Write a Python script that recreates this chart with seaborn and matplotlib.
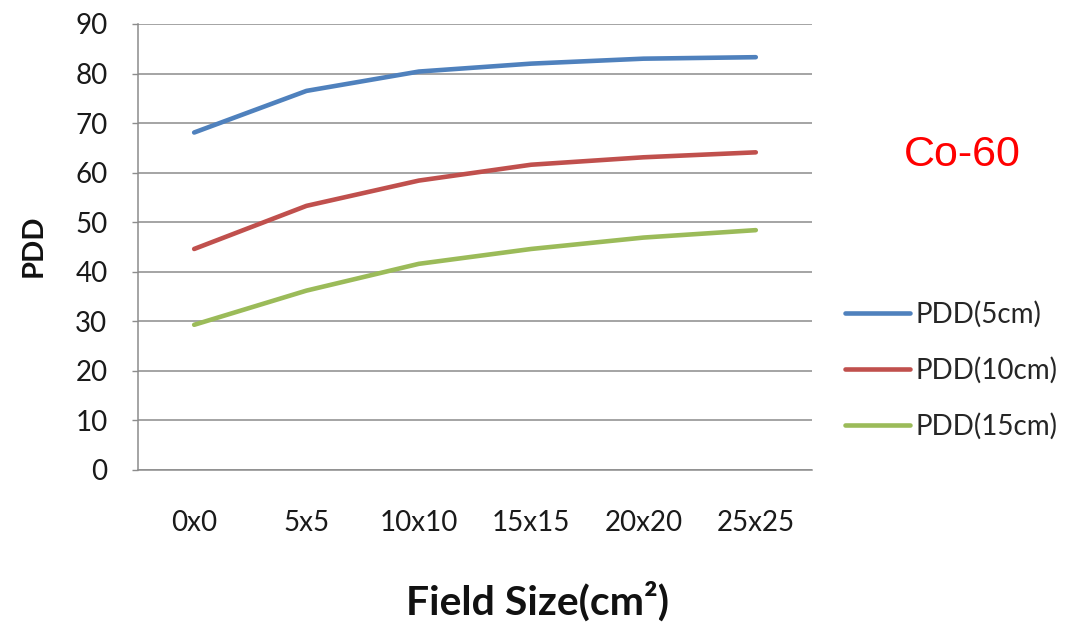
import matplotlib
matplotlib.use("Agg")
import matplotlib.pyplot as plt
import seaborn as sns
import pandas as pd

# Field sizes and percentage depth dose at three depths (Co-60 beam)
field_sizes = ["0x0", "5x5", "10x10", "15x15", "20x20", "25x25"]
pdd_5cm = [68.1, 76.5, 80.4, 82.0, 83.0, 83.3]
pdd_10cm = [44.6, 53.3, 58.4, 61.6, 63.1, 64.1]
pdd_15cm = [29.3, 36.2, 41.6, 44.6, 46.9, 48.4]
series_names = ["PDD(5cm)", "PDD(10cm)", "PDD(15cm)"]
y_ticks = [0, 10, 20, 30, 40, 50, 60, 70, 80, 90]

colors = ["#4F81BD", "#C0504D", "#9BBB59"]

rows = []
for name, vals in zip(series_names, [pdd_5cm, pdd_10cm, pdd_15cm]):
    for fs, v in zip(field_sizes, vals):
        rows.append({"Field Size": fs, "PDD": v, "Series": name})
df = pd.DataFrame(rows)

sns.set_theme(style="white")
plt.rcParams["font.family"] = ["Lato", "DejaVu Sans"]

fig = plt.figure(figsize=(10.79, 6.23), dpi=100)
ax = fig.add_axes([0.1279, 0.2456, 0.6246, 0.7159])

sns.lineplot(data=df, x="Field Size", y="PDD", hue="Series",
             hue_order=series_names, palette=colors, linewidth=3.3,
             sort=False, ax=ax, legend=True)

ax.set_xlim(-0.5, len(field_sizes) - 0.5)
ax.set_ylim(0, 90)
ax.set_yticks(y_ticks)
ax.yaxis.grid(True, color="#8C8C8C", linewidth=1.1)
ax.xaxis.grid(False)

for side in ["top", "right"]:
    ax.spines[side].set_visible(False)
for side in ["left", "bottom"]:
    ax.spines[side].set_color("#8C8C8C")
    ax.spines[side].set_linewidth(1.1)

ax.tick_params(axis="y", which="major", left=True, length=4, width=1,
               color="#8C8C8C", pad=18, labelsize=20, labelcolor="#1a1a1a")
ax.tick_params(axis="x", which="major", bottom=False, length=0, pad=29,
               labelsize=20, labelcolor="#1a1a1a")

ax.set_xlabel("")
ax.set_ylabel("")

fig.text(0.031, 1 - 246 / 623, "PDD", fontsize=21, fontweight="bold",
         rotation=90, ha="center", va="center", color="#111111")

fig.text(0.498, 1 - 601 / 623, "Field Size(cm²)", fontsize=29.5, fontweight="bold",
         ha="center", va="center", color="#111111")

fig.text(0.8915, 1 - 155 / 623, "Co-60", fontsize=31, color="#FF0000",
         family="Liberation Sans", ha="center", va="center")

handles, labels = ax.get_legend_handles_labels()
ax.legend(handles, labels, loc="upper left", bbox_to_anchor=(0.783, 0.517),
          bbox_transform=fig.transFigure, frameon=False, fontsize=20,
          handlelength=2.35, handletextpad=0.18, labelspacing=1.05,
          borderaxespad=0, borderpad=0)
for line in ax.get_legend().get_lines():
    line.set_linewidth(3.3)

fig.savefig("out.png", dpi=100)
